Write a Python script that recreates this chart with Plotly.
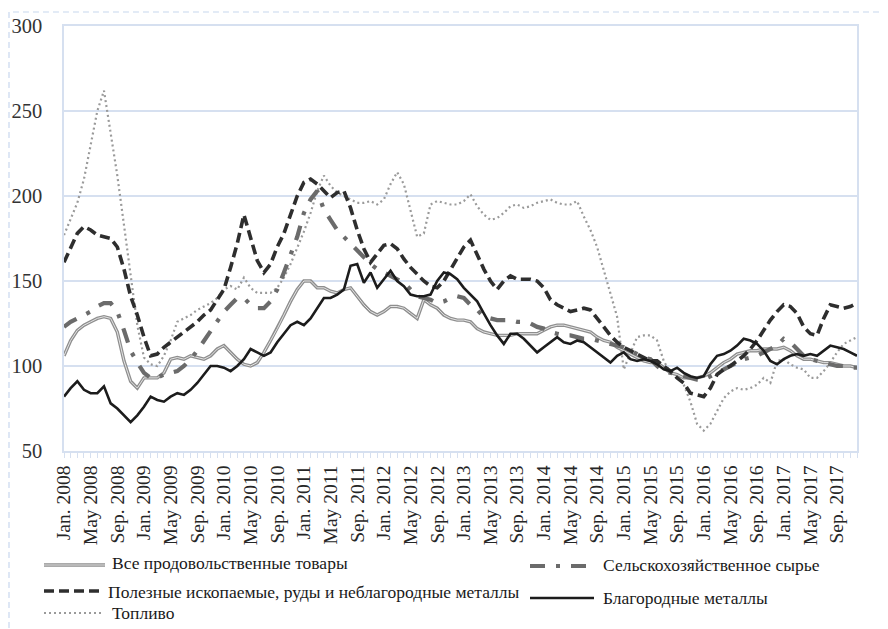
import plotly.graph_objects as go

# ---------------- data ----------------
month_names = ["Jan.", "Feb.", "Mar.", "Apr.", "May", "Jun.", "Jul.", "Aug.", "Sep.", "Oct.", "Nov.", "Dec."]
years = list(range(2008, 2018))
categories = [f"{m} {y}" for y in years for m in month_names]
tick_labels = [c if i % 4 == 0 else "" for i, c in enumerate(categories)]

food = [106, 115, 121, 124, 126, 128, 129, 128, 120, 103,
        91, 87, 93, 93, 93, 96, 104, 105, 104, 106,
        105, 104, 106, 110, 112, 108, 104, 101, 100, 102,
        108, 115, 122, 130, 138, 145, 150, 150, 146, 146,
        144, 143, 145, 146, 141, 136, 132, 130, 132, 135,
        135, 134, 131, 128, 139, 136, 134, 130, 128, 127,
        127, 126, 122, 120, 119, 118, 118, 118, 119, 119,
        119, 119, 121, 123, 124, 124, 123, 122, 121, 120,
        117, 115, 114, 111, 109, 107, 105, 103, 102, 102,
        99, 96, 95, 93, 93, 93, 94, 96, 99, 102,
        104, 107, 108, 109, 109, 110, 110, 110, 111, 109,
        106, 104, 104, 103, 102, 102, 101, 100, 100, 99]

agri = [123, 126, 128, 130, 132, 135, 137, 137, 132, 121,
        109, 102, 96, 93, 93, 95, 96, 97, 100, 104,
        109, 115, 120, 127, 132, 136, 140, 140, 136, 134,
        134, 138, 145, 155, 165, 176, 190, 198, 203, 192,
        186, 180, 176, 172, 168, 164, 160, 157, 155, 153,
        151, 149, 145, 141, 140, 139, 137, 138, 140, 141,
        140, 136, 133, 129, 128, 127, 127, 127, 126, 126,
        125, 123, 122, 120, 119, 118, 118, 117, 116, 116,
        115, 114, 113, 112, 111, 109, 107, 105, 104, 100,
        97, 96, 95, 94, 93, 92, 92, 94, 96, 98,
        100, 102, 104, 105, 106, 108, 110, 112, 116, 114,
        110, 106, 104, 103, 102, 101, 100, 100, 99, 99]

minerals = [161, 170, 178, 182, 180, 177, 176, 175, 170, 157,
            141, 130, 117, 106, 107, 111, 114, 117, 120, 123,
            126, 130, 133, 139, 145, 158, 172, 189, 176, 162,
            155, 160, 170, 178, 189, 200, 208, 210, 207, 203,
            199, 202, 203, 193, 180, 169, 161, 166, 171, 172,
            169, 163, 158, 154, 150, 147, 146, 150, 157, 163,
            170, 174, 165, 157, 150, 145, 150, 153, 151, 151,
            151, 150, 146, 139, 136, 134, 132, 133, 134, 133,
            128, 123, 118, 114, 111, 109, 107, 105, 103, 103,
            100, 97, 93, 90, 84, 83, 82, 87, 95, 98,
            100, 103, 106, 110, 115, 121, 127, 132, 136, 135,
            131, 123, 119, 118, 128, 136, 135, 134, 135, 137]

fuel = [177, 187, 196, 210, 230, 250, 262, 238, 212, 183,
        153, 124, 105, 101, 100, 106, 115, 126, 128, 130,
        133, 135, 137, 140, 145, 147, 145, 152, 146, 143,
        143, 143, 146, 152, 160, 169, 179, 190, 203, 212,
        206, 202, 200, 198, 196, 196, 197, 195, 198, 207,
        214, 207, 192, 176, 178, 195, 197, 196, 195, 195,
        197, 201, 194, 189, 186, 187, 190, 194, 195, 193,
        194, 196, 197, 198, 196, 195, 195, 197, 188, 180,
        170, 156, 143, 129, 98, 107, 117, 118, 118, 115,
        103, 96, 95, 89, 79, 66, 62, 66, 74, 81,
        85, 87, 86, 87, 89, 93, 90, 103, 104, 101,
        99, 98, 93, 93, 97, 102, 108, 113, 115, 117]

precious = [82, 87, 91, 86, 84, 84, 88, 78, 75, 71,
            67, 71, 76, 82, 80, 79, 82, 84, 83, 86,
            90, 95, 100, 100, 99, 97, 100, 104, 110, 108,
            106, 108, 114, 119, 124, 126, 124, 128, 134, 140,
            140, 142, 145, 159, 160, 149, 155, 146, 151, 156,
            150, 147, 142, 141, 141, 142, 150, 155, 154, 151,
            146, 142, 138, 131, 124, 118, 113, 119, 119, 116,
            112, 108, 111, 114, 117, 114, 113, 115, 114, 111,
            108, 105, 102, 106, 108, 104, 103, 104, 103, 101,
            98, 97, 99, 96, 94, 93, 94, 101, 106, 107,
            109, 112, 116, 115, 113, 109, 103, 101, 104, 106,
            107, 106, 107, 106, 109, 112, 111, 110, 108, 106]

names = ["Все продовольственные товары",
         "Сельскохозяйственное сырье",
         "Полезные ископаемые, руды и неблагородные металлы",
         "Благородные металлы",
         "Топливо"]

# ---------------- layout geometry (page pixels) ----------------
OFF = 8                      # page body margin around the figure
W, H = 888 - OFF, 629 - OFF
P_LEFT, P_TOP, P_RIGHT, P_BOTTOM = 64, 26, 857, 451   # plot area in page pixels
L, T = P_LEFT - OFF, P_TOP - OFF
R, B = 888 - P_RIGHT, 629 - P_BOTTOM
PW, PH = P_RIGHT - P_LEFT, P_BOTTOM - P_TOP
GRID = "#d6e0f0"
SERIF = "Liberation Serif"

food_out = dict(color="#8e8e8e", width=3.4)
food_in = dict(color="#e4e4e4", width=1.0)
agri_st = dict(color="#6b6b6b", width=4.2, dash="15px,11px,4px,11px")
min_st = dict(color="#2e2e2e", width=3.6, dash="10px,5px")
fuel_st = dict(color="#9a9a9a", width=2.2, dash="2px,3px")
prec_st = dict(color="#1c1c1c", width=2.6)

fig = go.Figure()
fig.add_trace(go.Scatter(x=categories, y=fuel, mode="lines", line=fuel_st, name=names[4]))
fig.add_trace(go.Scatter(x=categories, y=food, mode="lines", line=food_out, name=names[0]))
fig.add_trace(go.Scatter(x=categories, y=food, mode="lines", line=food_in, name=names[0], hoverinfo="skip"))
fig.add_trace(go.Scatter(x=categories, y=agri, mode="lines", line=agri_st, name=names[1]))
fig.add_trace(go.Scatter(x=categories, y=minerals, mode="lines", line=min_st, name=names[2]))
fig.add_trace(go.Scatter(x=categories, y=precious, mode="lines", line=prec_st, name=names[3]))


def px(x):
    return (x - P_LEFT) / PW


def py(y):
    return (P_BOTTOM - y) / PH


shapes = []
annotations = []
# outer dashed frame
shapes.append(dict(type="rect", xref="paper", yref="paper", x0=px(9), x1=px(900), y0=py(650), y1=py(12),
                   line=dict(color="#c8d8ee", width=1.2, dash="6px,4px"), layer="below"))

# manual legend: (line x0, x1, y, style, text x, text y, name)
legend_items = [
    (44, 105, 565, [food_out, food_in], 111, 563, names[0]),
    (530, 594, 566, [agri_st], 602, 565, names[1]),
    (44, 101, 591, [min_st], 107, 592, names[2]),
    (530, 594, 598, [prec_st], 602, 598, names[3]),
    (44, 101, 613, [fuel_st], 111, 613, names[4]),
]
for x0, x1, y, styles, tx, ty, label in legend_items:
    for st in styles:
        shapes.append(dict(type="line", xref="paper", yref="paper", x0=px(x0), x1=px(x1), y0=py(y), y1=py(y),
                           line=st))
    annotations.append(dict(xref="paper", yref="paper", x=px(tx), y=py(ty), text=label, showarrow=False,
                            xanchor="left", yanchor="middle", borderpad=0,
                            font=dict(family=SERIF, size=17.5, color="#1a1a1a")))

fig.update_layout(
    width=W, height=H,
    margin=dict(l=L, r=R, t=T, b=B, autoexpand=False),
    paper_bgcolor="white", plot_bgcolor="white",
    showlegend=False,
    shapes=shapes, annotations=annotations,
    font=dict(family=SERIF, color="#262626"),
)
fig.update_xaxes(type="category", range=[0, len(categories) - 1], tickmode="array",
                 tickvals=categories, ticktext=tick_labels, tickangle=-90,
                 ticks="outside", ticklen=5, tickcolor=GRID, tickwidth=1,
                 showline=True, linecolor=GRID, linewidth=1.5, mirror=True, showgrid=False,
                 automargin=False,
                 tickfont=dict(family=SERIF, size=19.5, color="#262626"))
fig.update_yaxes(range=[50, 300], dtick=50, tick0=50, showgrid=True, gridcolor=GRID, gridwidth=1.5,
                 showline=True, linecolor=GRID, linewidth=1.5, mirror=True, zeroline=False,
                 ticks="outside", ticklen=16, tickcolor="rgba(0,0,0,0)", automargin=False,
                 tickfont=dict(family=SERIF, size=20.5, color="#333333"))

fig.write_html("out.html")
